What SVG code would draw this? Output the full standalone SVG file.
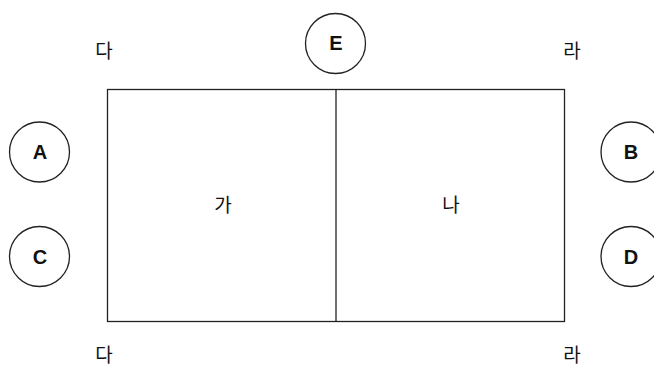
<svg xmlns="http://www.w3.org/2000/svg" width="654" height="367" viewBox="0 0 654 367">
<style>
.s{fill:#fff;stroke:#222;stroke-width:1.3}
.l{font-family:"Liberation Sans","Noto Sans",Arial,sans-serif;font-size:20px;font-weight:bold;fill:#111;text-anchor:middle;dominant-baseline:central}
.k{font-family:"Noto Sans CJK KR","Noto Sans",sans-serif;font-size:19px;fill:#111;text-anchor:middle;dominant-baseline:central}
</style>
<rect width="654" height="367" fill="#fff"/>
<g id="box">
<rect class="s" x="107.5" y="89.5" width="457" height="232"/>
</g>
<g id="connectors">
<line class="s" x1="336" y1="89.5" x2="336" y2="321.5"/>
</g>
<g id="ga"><text class="k" x="223" y="203">가</text></g>
<g id="na"><text class="k" x="451" y="203">나</text></g>
<g id="nodeA"><circle class="s" cx="39.5" cy="152" r="30"/><text class="l" x="40" y="152">A</text></g>
<g id="nodeC"><circle class="s" cx="39.5" cy="256.5" r="30"/><text class="l" x="40" y="256.5">C</text></g>
<g id="nodeB"><circle class="s" cx="631" cy="152" r="30"/><text class="l" x="631" y="152">B</text></g>
<g id="nodeD"><circle class="s" cx="631" cy="256.5" r="30"/><text class="l" x="631" y="256.5">D</text></g>
<g id="nodeE"><circle class="s" cx="335.5" cy="43.5" r="30"/><text class="l" x="336" y="43">E</text></g>
<g id="labels">
<text class="k" x="104" y="49">다</text>
<text class="k" x="572" y="49">라</text>
<text class="k" x="104" y="353">다</text>
<text class="k" x="572" y="353">라</text>
</g>
</svg>
